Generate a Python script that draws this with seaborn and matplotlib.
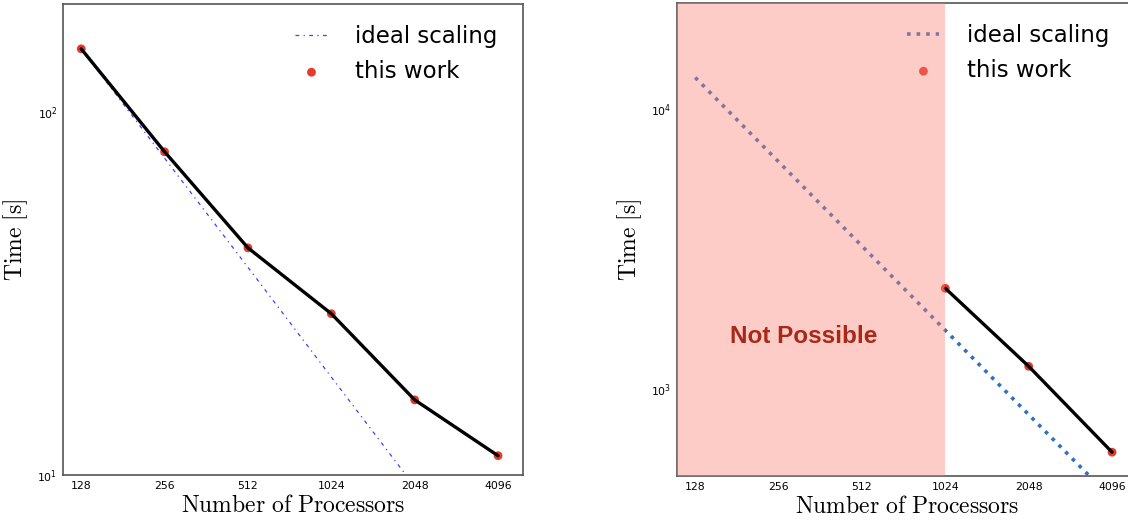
import matplotlib
matplotlib.use("Agg")
import matplotlib.pyplot as plt
import matplotlib.ticker as mticker
import seaborn as sns
import pandas as pd

# Strong scaling: wall time vs. number of processors
procs = [128, 256, 512, 1024, 2048, 4096]
proc_labels = ["128", "256", "512", "1024", "2048", "4096"]

# Left panel: measured times and the ideal 1/p reference
left_time = [149, 77.6, 42.2, 27.8, 16.1, 11.3]
left_ideal = [149, 74.5, 37.3, 18.6, 9.3, 4.66]

# Right panel: runs only feasible from 1024 processors on
right_procs = [1024, 2048, 4096]
right_time = [2295, 1208, 596]
right_ideal = [13000, 6500, 3250, 1625, 812, 406]

sns.set_style("white")
plt.rcParams["mathtext.fontset"] = "cm"
plt.rcParams["font.family"] = ["DejaVu Sans"]
plt.rcParams["text.color"] = "black"
plt.rcParams["axes.labelcolor"] = "black"
plt.rcParams["xtick.color"] = "black"
plt.rcParams["ytick.color"] = "black"

W, H = 1128, 522
fig = plt.figure(figsize=(W / 100, H / 100), dpi=100)
ax_l = fig.add_axes([63 / W, (H - 475) / H, 460 / W, 471 / H])
ax_r = fig.add_axes([677 / W, (H - 476) / H, 460 / W, 473 / H])

red = "#e8392a"
label_kw = dict(fontsize=17)


def style_axes(ax, ylim):
    ax.set_xscale("log", base=2)
    ax.set_yscale("log")
    ax.set_xlim(110, 5040)
    ax.set_ylim(*ylim)
    ax.set_xticks(procs)
    ax.set_xticklabels(proc_labels)
    ax.xaxis.set_minor_locator(mticker.NullLocator())
    ax.yaxis.set_minor_formatter(mticker.NullFormatter())
    ax.tick_params(which="both", length=0, labelsize=7.8, pad=4)
    for s in ax.spines.values():
        s.set_color("#555555")
        s.set_linewidth(1.2)
    ax.set_xlabel(r"$\mathrm{Number\ of\ Processors}$", labelpad=2, **label_kw)
    ax.set_ylabel(r"$\mathrm{Time\ [s]}$", labelpad=5, **label_kw)


# ---- left panel ----
df_l = pd.DataFrame({"procs": procs, "time": left_time, "ideal": left_ideal})
sns.lineplot(data=df_l, x="procs", y="ideal", ax=ax_l, color="#2a2aff",
             lw=0.9, dashes=False, alpha=0.9, label="ideal scaling", zorder=2)
ax_l.lines[-1].set_dashes((3, 3.5, 1, 3.5))
sns.scatterplot(data=df_l, x="procs", y="time", ax=ax_l, color=red, s=40,
                edgecolor="none", label="this work", zorder=3)
sns.lineplot(data=df_l, x="procs", y="time", ax=ax_l, color="black", lw=2.4,
             zorder=4)
style_axes(ax_l, (10, 198))

# ---- right panel ----
df_r = pd.DataFrame({"procs": procs, "ideal": right_ideal})
df_rt = pd.DataFrame({"procs": right_procs, "time": right_time})
sns.lineplot(data=df_r, x="procs", y="ideal", ax=ax_r, color="#3070c0",
             lw=2.6, dashes=False, label="ideal scaling", zorder=2)
ax_r.lines[-1].set_linestyle(":")
sns.scatterplot(data=df_rt, x="procs", y="time", ax=ax_r, color=red, s=40,
                edgecolor="none", label="this work", zorder=3)
sns.lineplot(data=df_rt, x="procs", y="time", ax=ax_r, color="black", lw=2.4,
             zorder=4)
style_axes(ax_r, (490, 24000))

for ax, shift in ((ax_l, 5), (ax_r, 7)):
    h, l = ax.get_legend_handles_labels()
    ax.legend(h[:2], l[:2], loc="upper right", frameon=False, fontsize=16.5,
              handlelength=1.4, handletextpad=1.2, labelspacing=0.55,
              borderaxespad=0.6, borderpad=0.3,
              bbox_to_anchor=(1 - shift / 460, 1.0))

# infeasible region shaded over everything left of 1024 processors
ax_r.axvspan(100, 1024, color="salmon", alpha=0.4, lw=0, zorder=10)
ax_r.text(316, 1546, "Not Possible", color="#a8281a", fontsize=17.5,
          fontweight="bold", family="Liberation Sans", ha="center",
          va="center", zorder=11)

fig.savefig("out.png", dpi=100)
